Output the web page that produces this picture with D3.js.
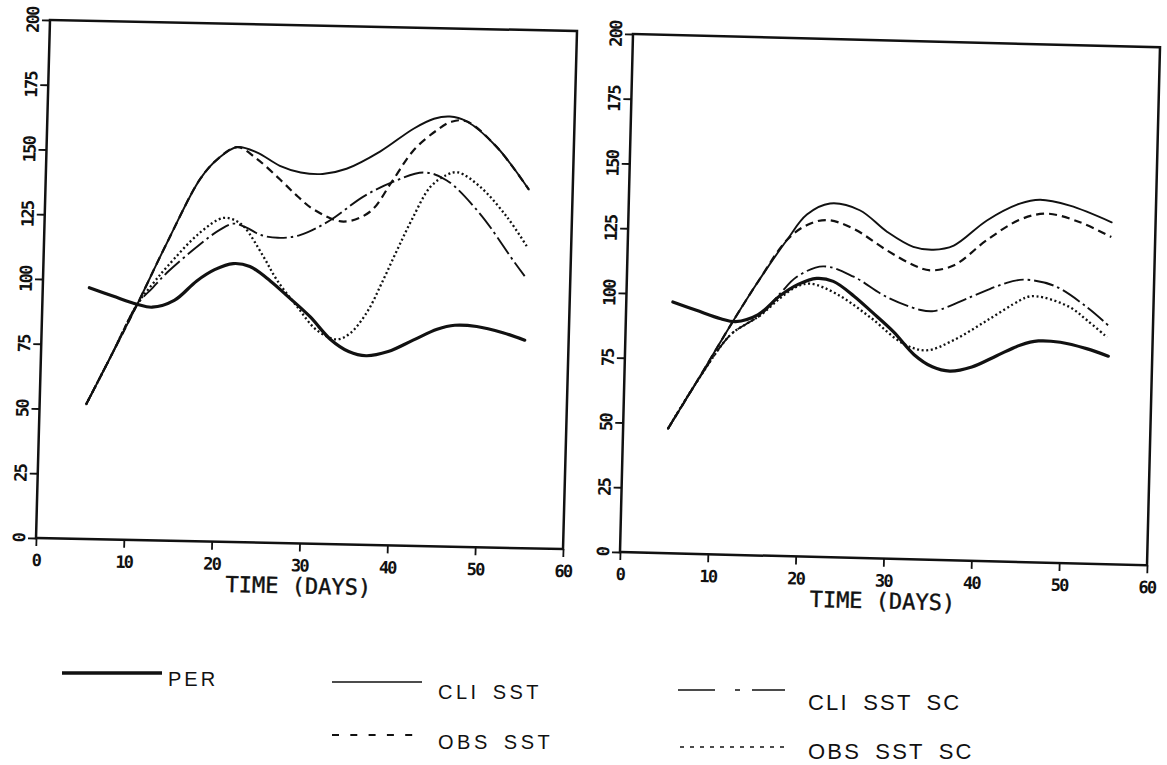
<!DOCTYPE html>
<html>
<head>
<meta charset="utf-8">
<script src="https://cdn.jsdelivr.net/npm/d3@7"></script>
<style>
  body { margin: 0; background: #fff; }
  svg { display: block; }
</style>
</head>
<body>
<svg id="chart" width="1167" height="765"></svg>
<script>
// Axis ticks
const xTicks = [0, 10, 20, 30, 40, 50, 60];
const yTicks = [0, 25, 50, 75, 100, 125, 150, 175, 200];
const xLabel = "TIME (DAYS)";

// Persistence forecast (same in both panels): [day, value]
const per = [[5.3,97],[8,94],[10.8,91],[12.5,90],[15,92.8],[17.5,100.5],[19.5,105],[21.6,107.5],[23.5,106.5],[25.9,101],[28,95],[30.5,87.6],[32.9,79],[35,74.5],[37,73],[39.5,74.8],[42.3,79.4],[45,83.8],[47,85.5],[49.5,85.2],[52.5,83],[55,80.3]];

// Left panel series
const leftCliSst = [[5.3,52],[8,71],[10.8,91],[14,115],[17.6,140],[19.6,148],[21.7,152.5],[24,150.5],[26.6,145.6],[29,143.2],[31.5,142.8],[34.2,145],[38,152],[41.7,161],[44,165],[45.8,166],[47.7,164.3],[51.2,154.7],[55,138.5]];
const leftObsSst = [[5.3,52],[8,71],[10.8,91],[14,115],[17.6,140],[19.6,148],[21.7,152.5],[24,148],[26.7,140.2],[28.7,134],[30.6,129],[34,124.6],[37,128.6],[39.4,140.4],[41.8,152.8],[44.4,160.7],[46,164],[47.7,164.3],[51.2,154.7],[55,138.5]];
const leftCliSstSc = [[5.3,52],[8,71],[10.8,91],[12.5,97.5],[14.1,103.5],[17.7,114.5],[20,120.5],[21.5,122.9],[23,121.5],[24.6,118.8],[26.6,117.8],[29.1,119],[32.5,125],[36.2,134.4],[39.6,140.4],[43,144.2],[45.6,141.4],[49.5,128.8],[53.5,110.7],[54.8,105]];
const leftObsSstSc = [[5.3,52],[8,71],[10.8,91],[12.5,99],[14.1,105.8],[17.7,119.1],[20.3,125],[21.8,124],[22.8,121.5],[25,110.5],[26.6,101.6],[29,91.4],[31.3,82.5],[33.6,79.1],[35.1,81.5],[37,90],[38.6,101.5],[40.2,114],[41.8,126],[43.8,138.7],[45.6,143.4],[46.9,144.5],[49.5,139],[52.6,127.7],[55,116.3]];

// Right panel series
const rightCliSst = [[5.1,48],[8,65],[12.4,91.3],[15,106],[18.1,122],[20.3,132],[22.9,136.5],[26.3,134.2],[29.5,126.1],[32.5,120.6],[34.8,119.7],[37.1,121.5],[40.8,131.5],[44.5,138.3],[46.8,140],[50.2,138],[55,132]];
const rightObsSst = [[5.1,48],[8,65],[12.4,91.3],[15,106],[18.1,122],[20.3,127.9],[22.6,130.1],[25.6,127.1],[29.5,119],[32.6,113.5],[34.5,111.7],[37.2,113.9],[40.8,123.8],[44.6,132.2],[47.6,134.7],[51.4,131.7],[55,126.3]];
const rightCliSstSc = [[5.1,48],[8,65],[11.9,84.7],[13.8,89.4],[15.3,92.7],[17.5,101.3],[19.3,107.8],[22.3,112.2],[25.8,108.5],[29.6,101],[33.4,96.4],[35,96],[39.1,101.7],[42.9,107.2],[45.1,109],[48.6,107],[52.4,99.1],[54.9,92.2]];
const rightObsSstSc = [[5.1,48],[8,65],[11.9,84.7],[13.8,89.4],[15.3,92.7],[17.5,99.5],[19.3,104],[20.9,105.4],[23.9,101.7],[27.8,93],[31.6,83.2],[34.3,80.8],[37.3,84.9],[41.1,92.9],[44.8,101],[45.9,102.6],[47.5,102.3],[50.5,98.8],[52.5,93.9],[54.8,87.6]];

const seriesNames = ["PER", "CLI SST", "OBS SST", "CLI SST SC", "OBS SST SC"];

// Line styles per series
const styles = {
  "PER":        { width: 3.2, dash: null,          cap: "round" },
  "CLI SST":    { width: 1.9, dash: null,          cap: "round" },
  "OBS SST":    { width: 2.2, dash: "8,5",         cap: "butt" },
  "CLI SST SC": { width: 1.9, dash: "20,4,2.5,4",  cap: "butt" },
  "OBS SST SC": { width: 2.3, dash: "2,2.6",       cap: "butt" }
};

const W = 527, H = 518;
const ink = "#111";
const tickFont = { family: "'DejaVu Sans Mono', monospace", size: "17px", spacing: "-1.8px" };

const panels = [
  { transform: "matrix(1,0.021,-0.027,1,50,20)",
    series: { "PER": per, "CLI SST": leftCliSst, "OBS SST": leftObsSst, "CLI SST SC": leftCliSstSc, "OBS SST SC": leftObsSstSc } },
  { transform: "matrix(1,0.0252,-0.0251,1,633,34)",
    series: { "PER": per, "CLI SST": rightCliSst, "OBS SST": rightObsSst, "CLI SST SC": rightCliSstSc, "OBS SST SC": rightObsSstSc } }
];

const svg = d3.select("#chart");
svg.append("rect").attr("width", 1167).attr("height", 765).attr("fill", "#fff");

const x = d3.scaleLinear().domain([0, 60]).range([0, W]);
const y = d3.scaleLinear().domain([0, 200]).range([H, 0]);
const line = d3.line().x(d => x(d[0])).y(d => y(d[1])).curve(d3.curveCatmullRom.alpha(0.5));

const drawOrder = ["OBS SST SC", "CLI SST SC", "OBS SST", "CLI SST", "PER"];

function styleTicks(sel) {
  sel.attr("fill", ink)
    .style("font-family", tickFont.family)
    .style("font-weight", "bold")
    .style("font-size", tickFont.size)
    .style("letter-spacing", tickFont.spacing);
}

panels.forEach(p => {
  const g = svg.append("g").attr("transform", p.transform);

  // frame
  g.append("rect").attr("x", 0).attr("y", 0).attr("width", W).attr("height", H)
    .attr("fill", "none").attr("stroke", ink).attr("stroke-width", 2.5);

  // y axis
  const ya = g.append("g").call(d3.axisLeft(y).tickValues(yTicks).tickSize(8).tickFormat(d3.format("d")));
  ya.select(".domain").remove();
  ya.selectAll(".tick line").attr("stroke", ink).attr("stroke-width", 1.8);
  ya.selectAll(".tick text")
    .attr("x", null).attr("dy", null)
    .attr("transform", "translate(-11,0) rotate(-90)")
    .attr("text-anchor", "middle")
    .call(styleTicks);

  // x axis
  const xa = g.append("g").attr("transform", `translate(0,${H})`)
    .call(d3.axisBottom(x).tickValues(xTicks).tickSize(8).tickFormat(d3.format("d")));
  xa.select(".domain").remove();
  xa.selectAll(".tick line").attr("stroke", ink).attr("stroke-width", 1.8);
  xa.selectAll(".tick text")
    .attr("y", 28).attr("dy", null)
    .call(styleTicks);

  g.append("text").attr("x", W / 2).attr("y", H + 50)
    .attr("text-anchor", "middle").attr("fill", ink)
    .style("font-family", "'DejaVu Sans Mono', monospace")
    .style("font-size", "22px")
    .style("stroke", ink).style("stroke-width", "0.4px")
    .text(xLabel);

  // curves
  drawOrder.forEach(name => {
    const s = styles[name];
    g.append("path").datum(p.series[name])
      .attr("d", line)
      .attr("fill", "none")
      .attr("stroke", ink)
      .attr("stroke-width", s.width)
      .attr("stroke-dasharray", s.dash)
      .attr("stroke-linecap", s.cap)
      .attr("stroke-linejoin", "round");
  });
});

// Legend
const legendItems = [
  { name: seriesNames[0], x1: 62,  x2: 162, ly: 673, tx: 168, ty: 686, size: 20, ls: 3,   ws: 0, width: 3.5, dash: null },
  { name: seriesNames[1], x1: 332, x2: 422, ly: 682, tx: 438, ty: 699, size: 20, ls: 3.5, ws: 4, width: 1.4, dash: null },
  { name: seriesNames[2], x1: 332, x2: 422, ly: 735, tx: 438, ty: 749, size: 20, ls: 3.5, ws: 4, width: 2,   dash: "7,11.3" },
  { name: seriesNames[3], x1: 678, x2: 785, ly: 690, tx: 808, ty: 710, size: 22, ls: 2.2, ws: 6, width: 1.6, dash: "37,20,5,12,33" },
  { name: seriesNames[4], x1: 680, x2: 785, ly: 747, tx: 808, ty: 759, size: 22, ls: 2.2, ws: 6, width: 1.6, dash: "4,6" }
];

const lg = svg.append("g");
legendItems.forEach(it => {
  lg.append("line")
    .attr("x1", it.x1).attr("x2", it.x2).attr("y1", it.ly).attr("y2", it.ly)
    .attr("stroke", ink).attr("stroke-width", it.width)
    .attr("stroke-dasharray", it.dash);
  lg.append("text")
    .attr("x", it.tx).attr("y", it.ty).attr("fill", ink)
    .style("font-family", "'Liberation Sans', Arial, sans-serif")
    .style("font-size", it.size + "px")
    .style("letter-spacing", it.ls + "px")
    .style("word-spacing", it.ws + "px")
    .text(it.name);
});
</script>
</body>
</html>
